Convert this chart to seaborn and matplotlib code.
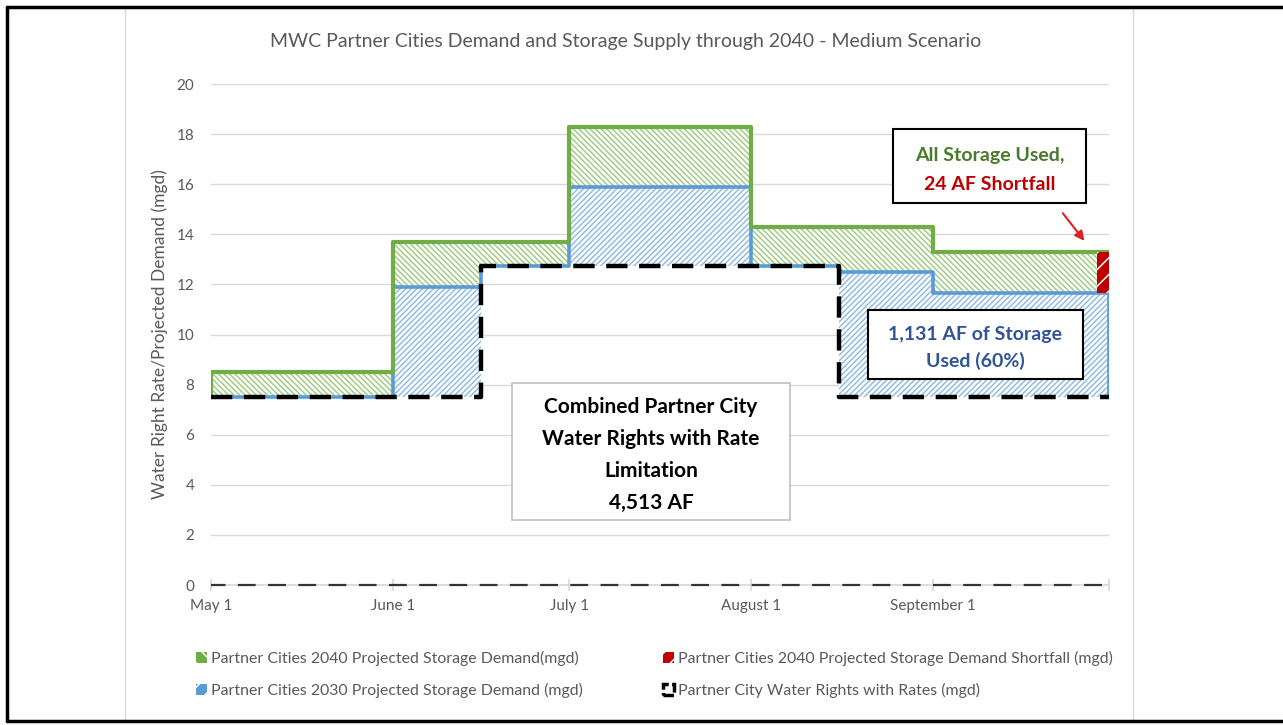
import matplotlib.pyplot as plt
from matplotlib.patches import Patch, Rectangle
from matplotlib.lines import Line2D
import numpy as np
import pandas as pd
import seaborn as sns

# step breakpoints (each value holds until the next date)
period_start = pd.to_datetime(['2040-05-01', '2040-06-01', '2040-06-16', '2040-07-01',
                               '2040-08-01', '2040-08-16', '2040-09-01', '2040-10-01'])
demand_2040 = [8.5, 13.7, 13.7, 18.3, 14.3, 14.3, 13.3]
demand_2030 = [7.5, 11.9, 11.9, 15.9, 12.5, 12.5, 11.65]
water_rights = [7.5, 7.5, 12.75, 12.75, 12.75, 7.5, 7.5]
shortfall_dates = pd.to_datetime(['2040-09-29', '2040-10-01'])

month_ticks = pd.to_datetime(['2040-05-01', '2040-06-01', '2040-07-01',
                              '2040-08-01', '2040-09-01', '2040-10-01'])
month_labels = ['May 1', 'June 1', 'July 1', 'August 1', 'September 1', '']

GREEN = '#70AD47'
GREEN_HATCH = '#A2CC85'
BLUE = '#5B9BD5'
BLUE_HATCH = '#93BDE3'
RED = '#C00000'
GRAY = '#595959'
LIGHT = '#D9D9D9'


def extend(values):
    # repeat the last value so the step reaches the final date
    return np.append(values, values[-1])


d40 = extend(demand_2040)
d30 = extend(demand_2030)
wr = extend(water_rights)
df = pd.DataFrame({'date': period_start, 'd40': d40,
                   'blue_top': np.maximum(d30, wr), 'wr': wr})

sns.set_theme(style='white')
plt.rcParams['font.family'] = ['Lato', 'DejaVu Sans']
plt.rcParams['hatch.linewidth'] = 1.1

fig = plt.figure(figsize=(12.83, 7.25), dpi=100)
ax = fig.add_axes([0.1645, 0.1931, 0.7, 0.691])

# hatched areas
ax.fill_between(df['date'], df['wr'], df['blue_top'], step='post', facecolor='white',
                edgecolor=BLUE_HATCH, hatch='//////', linewidth=0, zorder=2)
ax.fill_between(df['date'], df['blue_top'], df['d40'], step='post', facecolor='white',
                edgecolor=GREEN_HATCH, hatch='\\\\\\\\\\\\', linewidth=0, zorder=2)

# outlines
sns.lineplot(data=df, x='date', y='blue_top', drawstyle='steps-post', color=BLUE,
             linewidth=2.6, ax=ax, zorder=3)
ax.vlines(period_start[-1], water_rights[-1], demand_2030[-1], color=BLUE, lw=2.6, zorder=3)
sns.lineplot(data=df, x='date', y='d40', drawstyle='steps-post', color=GREEN,
             linewidth=3, ax=ax, zorder=3)
ax.vlines(period_start[0], water_rights[0], demand_2040[0], color=GREEN, lw=3, zorder=3)

# shortfall at the end of the season
ax.fill_between(shortfall_dates, demand_2030[-1], demand_2040[-1], facecolor=RED,
                edgecolor='white', hatch='//', linewidth=0, zorder=4)

# water rights
sns.lineplot(data=df, x='date', y='wr', drawstyle='steps-post', color='black',
             linewidth=3.2, linestyle=(0, (4.8, 2.6)), ax=ax, zorder=4)
ax.axhline(0, color='#333333', lw=1.6, ls=(1.5, (8.0, 5.6)), zorder=3, clip_on=False)

ax.set_ylim(0, 20)
ax.set_xlim(month_ticks[0], month_ticks[-1])
ax.set_yticks(range(0, 21, 2))
ax.set_xticks(month_ticks)
ax.set_xticklabels(month_labels)
ax.grid(axis='y', color=LIGHT, lw=1)
ax.set_axisbelow(True)
for side in ['left', 'top', 'right']:
    ax.spines[side].set_visible(False)
ax.spines['bottom'].set_color(LIGHT)
ax.tick_params(axis='x', direction='inout', length=8, color=LIGHT, labelcolor=GRAY,
               labelsize=11, pad=6, bottom=True)
ax.tick_params(axis='y', length=0, labelcolor=GRAY, labelsize=11, pad=12)
ax.set_xlabel('')
ax.set_ylabel('Water Right Rate/Projected Demand (mgd)', color=GRAY, fontsize=12.5, labelpad=6)

# text boxes
ax.add_patch(Rectangle((0.3352, 0.1297), 0.3096, 0.2735, transform=ax.transAxes,
                       facecolor='white', edgecolor='#BFBFBF', lw=1.2, zorder=6))
ax.text(0.49, 0.2595, 'Combined Partner City\nWater Rights with Rate\nLimitation\n4,513 AF',
        transform=ax.transAxes, ha='center', va='center', fontsize=15, fontweight='bold',
        color='black', linespacing=1.73, zorder=7)

ax.add_patch(Rectangle((0.7316, 0.4112), 0.2394, 0.1377, transform=ax.transAxes,
                       facecolor='white', edgecolor='black', lw=1.5, zorder=6))
ax.text(0.851, 0.473, '1,131 AF of Storage\nUsed (60%)', transform=ax.transAxes,
        ha='center', va='center', fontsize=14, fontweight='bold', color='#2F5496',
        linespacing=1.55, zorder=7)

ax.add_patch(Rectangle((0.7595, 0.7625), 0.2149, 0.1477, transform=ax.transAxes,
                       facecolor='white', edgecolor='black', lw=1.5, zorder=6))
ax.text(0.8675, 0.858, 'All Storage Used,', transform=ax.transAxes, ha='center',
        va='center', fontsize=14, fontweight='bold', color='#4A7A2C', zorder=7)
ax.text(0.8675, 0.80, '24 AF Shortfall', transform=ax.transAxes, ha='center',
        va='center', fontsize=14, fontweight='bold', color=RED, zorder=7)
ax.annotate('', xy=(0.9744, 0.6826), xytext=(0.9465, 0.7465), xycoords='axes fraction',
            arrowprops=dict(arrowstyle='-|>', color='#E02020', lw=1.5, mutation_scale=14),
            zorder=7)

# legend, two separate columns
col1 = [Patch(facecolor=GREEN, edgecolor='white', hatch='\\\\', lw=0),
        Patch(facecolor=BLUE, edgecolor='white', hatch='//', lw=0)]
col2 = [Patch(facecolor=RED, edgecolor='white', hatch='//', lw=0),
        Patch(facecolor='white', edgecolor='black', lw=2.5, linestyle=(0, (3, 1)))]
leg_kw = dict(loc='upper left', frameon=False, fontsize=11.4, labelcolor=GRAY,
              handlelength=0.7, handleheight=0.7, handletextpad=0.25, labelspacing=1.05,
              borderaxespad=0, borderpad=0)
fig.legend(col1, ['Partner Cities 2040 Projected Storage Demand(mgd)',
                  'Partner Cities 2030 Projected Storage Demand (mgd)'],
           bbox_to_anchor=(196 / 1283, 1 - 651 / 725), **leg_kw)
fig.legend(col2, ['Partner Cities 2040 Projected Storage Demand Shortfall (mgd)',
                  'Partner City Water Rights with Rates (mgd)'],
           bbox_to_anchor=(663 / 1283, 1 - 651 / 725), **leg_kw)

fig.text(0.488, 1 - 42 / 725, 'MWC Partner Cities Demand and Storage Supply through 2040 - Medium Scenario',
         ha='center', va='center', fontsize=14, color=GRAY)

# chart frame lines
top, bottom = 1 - 7 / 725, 4 / 725
for xp in [125, 1133]:
    fig.add_artist(Line2D([xp / 1283] * 2, [bottom, top], color=LIGHT, lw=1,
                          transform=fig.transFigure))
fig.add_artist(Line2D([7 / 1283] * 2, [bottom, top], color='black', lw=2.5,
                      transform=fig.transFigure))
fig.add_artist(Line2D([7 / 1283, 1], [top] * 2, color='black', lw=2.5,
                      transform=fig.transFigure))
fig.add_artist(Line2D([7 / 1283, 1], [bottom] * 2, color='black', lw=2.5,
                      transform=fig.transFigure))

fig.savefig('out.png', dpi=100)
